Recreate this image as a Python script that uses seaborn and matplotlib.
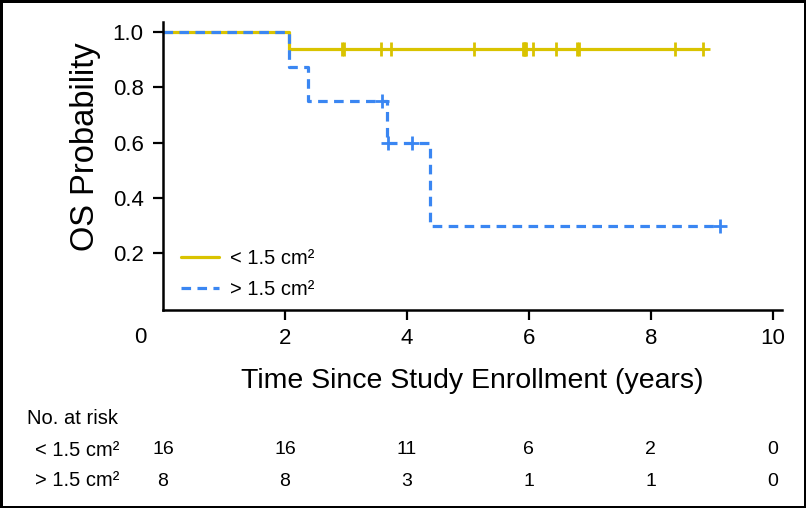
import numpy as np
import pandas as pd
import matplotlib
matplotlib.use("Agg")
import matplotlib.pyplot as plt
import matplotlib.transforms as mtransforms
import seaborn as sns

# follow-up times (years) and event flags (1 = death, 0 = censored)
small_times = [2.07, 2.93, 2.96, 3.58, 3.74, 5.10, 5.90, 5.92, 5.94, 5.96,
               6.07, 6.44, 6.79, 6.82, 8.39, 8.85]
small_events = [1, 0, 0, 0, 0, 0, 0, 0, 0, 0, 0, 0, 0, 0, 0, 0]
large_times = [2.07, 2.38, 3.59, 3.67, 3.69, 4.09, 4.38, 9.13]
large_events = [1, 1, 0, 1, 0, 0, 1, 0]

group_labels = ["< 1.5 cm\u00b2", "> 1.5 cm\u00b2"]
risk_times = [0, 2, 4, 6, 8, 10]
risk_small = [16, 16, 11, 6, 2, 0]
risk_large = [8, 8, 3, 1, 1, 0]

yellow = "#D9C300"
blue = "#3A86F2"


def km_curve(times, events):
    """Kaplan-Meier step points plus censor marks."""
    order = np.argsort(times, kind="stable")
    t = np.asarray(times)[order]
    e = np.asarray(events)[order]
    n = len(t)
    s = 1.0
    xs, ys, cx, cy = [0.0], [1.0], [], []
    for i, (ti, ei) in enumerate(zip(t, e)):
        at_risk = n - i
        if ei:
            s *= (at_risk - 1) / at_risk
            xs.append(ti)
            ys.append(s)
        else:
            cx.append(ti)
            cy.append(s)
    xs.append(t[-1])
    ys.append(s)
    return pd.DataFrame({"time": xs, "surv": ys}), cx, cy


sns.set_theme(style="white")
plt.rcParams["font.family"] = ["Liberation Sans", "DejaVu Sans"]
for key in ["text.color", "axes.labelcolor", "xtick.color", "ytick.color"]:
    plt.rcParams[key] = "black"

fig = plt.figure(figsize=(8.06, 5.08), dpi=100, linewidth=2.5, edgecolor="black")
ax = fig.add_axes([163 / 806, 1 - 310 / 508, 619 / 806, 288 / 508])

curves = [
    (km_curve(small_times, small_events), yellow, "-", group_labels[0]),
    (km_curve(large_times, large_events), blue, (0, (3, 2)), group_labels[1]),
]
for (df, cx, cy), color, ls, label in curves:
    sns.lineplot(data=df, x="time", y="surv", ax=ax, color=color, linewidth=2.3,
                 drawstyle="steps-post", label=label, estimator=None)
    ax.lines[-1].set_linestyle(ls)
    ax.plot(cx, cy, linestyle="none", marker="+", markersize=10,
            markeredgewidth=2.0, color=color)

ax.set_xlim(0, 10.15)
ax.set_ylim(-0.005, 1.036)
ax.set_xticks([2, 4, 6, 8, 10])
ax.set_yticks([0.2, 0.4, 0.6, 0.8, 1.0])
ax.set_yticklabels(["0.2", "0.4", "0.6", "0.8", "1.0"])
ax.tick_params(axis="both", direction="out", length=7, width=1.6, color="black",
               labelsize=16, bottom=True, left=True)
ax.tick_params(axis="x", pad=6)
ax.tick_params(axis="y", pad=7)
for side in ["top", "right"]:
    ax.spines[side].set_visible(False)
for side in ["left", "bottom"]:
    ax.spines[side].set_linewidth(1.8)
    ax.spines[side].set_color("black")

# lone "0" at the origin, shifted left of the y spine
ax.text(-23 / 61, -0.105, "0", transform=ax.transData, ha="center", va="center",
        fontsize=16)

ax.set_xlabel("Time Since Study Enrollment (years)", fontsize=20.5, labelpad=14)
ax.set_ylabel("OS Probability", fontsize=23.5)
ax.yaxis.set_label_coords(-0.100, 0.566)

leg = ax.legend(loc="lower left", frameon=False, fontsize=14.5, handlelength=1.9,
                bbox_to_anchor=(0.0, -0.025), labelspacing=0.6, handletextpad=0.55)
leg.get_lines()[1].set_linestyle((0, (3, 2)))

# risk table under the axis
tr = mtransforms.blended_transform_factory(ax.transData, fig.transFigure)
fig.text(27 / 806, 1 - 418 / 508, "No. at risk", fontsize=14.5, va="center")
for row_y, label, counts in [(450, group_labels[0], risk_small),
                             (481, group_labels[1], risk_large)]:
    fig.text(35 / 806, 1 - row_y / 508, label, fontsize=14.5, va="center")
    for t, c in zip(risk_times, counts):
        ax.text(t, 1 - row_y / 508, str(c), transform=tr, ha="center",
                va="center", fontsize=14, clip_on=False)

plt.savefig("out.png", dpi=100)
